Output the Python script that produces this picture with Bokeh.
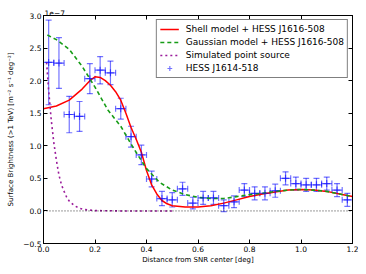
from bokeh.plotting import figure
from bokeh.models import (Range1d, FixedTicker, PrintfTickFormatter, LinearAxis, Whisker,
                          TeeHead, ColumnDataSource, Legend, LegendItem, Span,
                          CustomJSTickFormatter)
from bokeh.embed import file_html
from bokeh.resources import INLINE

FONT = "DejaVu Sans"

# HESS J1614-518 profile (surface brightness in units of 1e-7 m^-2 s^-1 deg^-2)
dist = [0.02, 0.06, 0.10, 0.14, 0.18, 0.22, 0.26, 0.30, 0.34, 0.38, 0.42, 0.46, 0.50, 0.54, 0.58,
        0.62, 0.66, 0.70, 0.74, 0.78, 0.82, 0.86, 0.90, 0.94, 0.98, 1.02, 1.06, 1.10, 1.14, 1.18]
dist_err = [0.02] * 30
bright = [2.28, 2.27, 1.48, 1.45, 2.03, 2.16, 2.12, 1.57, 1.14, 0.86, 0.49, 0.19, 0.17, 0.34, 0.12,
          0.20, 0.20, 0.08, 0.14, 0.32, 0.27, 0.27, 0.31, 0.50, 0.42, 0.40, 0.40, 0.42, 0.32, 0.17]
bright_err = [0.65, 0.39, 0.28, 0.23, 0.23, 0.21, 0.18, 0.16, 0.16, 0.15, 0.12, 0.11, 0.11, 0.10, 0.09,
              0.10, 0.10, 0.09, 0.09, 0.10, 0.10, 0.10, 0.10, 0.10, 0.10, 0.10, 0.10, 0.10, 0.10, 0.10]

# Shell model + HESS J1616-508
shell_x = [0.00, 0.05, 0.10, 0.15, 0.18, 0.20, 0.22, 0.24, 0.26, 0.28, 0.30, 0.32, 0.34, 0.36, 0.38,
           0.40, 0.42, 0.44, 0.46, 0.48, 0.50, 0.55, 0.60, 0.65, 0.70, 0.75, 0.80, 0.85, 0.90, 0.95,
           1.00, 1.05, 1.10, 1.15, 1.20]
shell_y = [1.57, 1.61, 1.70, 1.87, 2.00, 2.06, 2.05, 2.00, 1.93, 1.83, 1.70, 1.50, 1.28, 1.10, 0.90,
           0.62, 0.40, 0.26, 0.16, 0.11, 0.08, 0.06, 0.06, 0.08, 0.12, 0.17, 0.22, 0.26, 0.29, 0.32,
           0.33, 0.32, 0.30, 0.26, 0.22]

# Gaussian model + HESS J1616-508
gauss_x = [0.015, 0.05, 0.10, 0.15, 0.20, 0.25, 0.30, 0.35, 0.40, 0.45, 0.50, 0.55, 0.60, 0.65, 0.70,
           0.75, 0.80, 0.85, 0.90, 0.95, 1.00, 1.05, 1.10, 1.15, 1.20]
gauss_y = [2.70, 2.63, 2.48, 2.22, 1.90, 1.55, 1.30, 0.96, 0.65, 0.44, 0.32, 0.25, 0.21, 0.19, 0.19,
           0.22, 0.25, 0.27, 0.30, 0.32, 0.33, 0.32, 0.30, 0.26, 0.22]

# Simulated point source
psf_x = [0.012, 0.02, 0.03, 0.04, 0.05, 0.06, 0.07, 0.08, 0.09, 0.10, 0.12, 0.14, 0.16, 0.20, 0.30,
         0.40, 0.50]
psf_y = [2.28, 1.85, 1.40, 1.05, 0.78, 0.55, 0.40, 0.30, 0.21, 0.15, 0.08, 0.04, 0.02, 0.005, 0.0,
         0.0, 0.0]

x_ticks = [0.0, 0.2, 0.4, 0.6, 0.8, 1.0, 1.2]
y_ticks = [-0.5, 0.0, 0.5, 1.0, 1.5, 2.0, 2.5, 3.0]

src = ColumnDataSource(dict(
    x=dist, y=bright,
    xlo=[a - b for a, b in zip(dist, dist_err)], xhi=[a + b for a, b in zip(dist, dist_err)],
    ylo=[a - b for a, b in zip(bright, bright_err)], yhi=[a + b for a, b in zip(bright, bright_err)],
))

p = figure(width=358, height=266, output_backend="svg", toolbar_location=None,
           x_range=Range1d(0, 1.2), y_range=Range1d(-0.5, 3.0),
           min_border_left=43, min_border_right=6, min_border_top=15, min_border_bottom=21,
           title="1e\u22127")
p.background_fill_color = "white"
p.border_fill_color = "white"
p.outline_line_color = "black"
p.outline_line_width = 1
p.grid.visible = False

p.title.text_font = FONT
p.title.text_font_size = "7.5px"
p.title.text_font_style = "normal"
p.title.text_color = "black"
p.title.align = "left"
p.title.offset = 1
p.title.standoff = 0

def style_axis(ax, ticks):
    ax.ticker = FixedTicker(ticks=ticks)
    ax.major_tick_in = 4
    ax.major_tick_out = 0
    ax.minor_tick_in = 0
    ax.minor_tick_out = 0
    ax.major_tick_line_color = "black"
    ax.axis_line_color = "black"
    ax.major_label_text_font = FONT
    ax.major_label_text_font_size = "7.5px"
    ax.major_label_text_color = "black"
    ax.major_label_standoff = 2
    ax.axis_label_text_font = FONT
    ax.axis_label_text_font_size = "7px"
    ax.axis_label_text_font_style = "normal"
    ax.axis_label_text_color = "black"
    ax.axis_label_standoff = 2

xa = p.xaxis[0]
ya = p.yaxis[0]
style_axis(xa, x_ticks)
style_axis(ya, y_ticks)
xa.formatter = PrintfTickFormatter(format="%.1f")
ya.formatter = PrintfTickFormatter(format="%.1f")
ya.major_label_overrides = {-0.5: "\u22120.5"}
xa.axis_label = "Distance from SNR center [deg]"
ya.axis_label = "Surface Brightness (>1 TeV) [m\u207b\u00b2 s\u207b\u00b9 deg\u207b\u00b2]"
xa.axis_label_standoff = 1
ya.axis_label_standoff = 5

# mirrored ticks on top and right
top = LinearAxis()
right = LinearAxis()
style_axis(top, x_ticks)
style_axis(right, y_ticks)
for ax in (top, right):
    ax.formatter = CustomJSTickFormatter(code="return ''")
    ax.major_label_text_font_size = "0px"
    ax.major_label_standoff = 0
    ax.axis_label_standoff = 0
p.add_layout(top, "above")
p.add_layout(right, "right")

# zero line
p.add_layout(Span(location=0, dimension="width", line_color="black", line_width=0.8,
                  line_dash="1 2"))

r_shell = p.line(shell_x, shell_y, line_color="#ff0000", line_width=1.5)
r_gauss = p.line(gauss_x, gauss_y, line_color="#169c16", line_width=1.6, line_dash="4 3")
r_psf = p.line(psf_x, psf_y, line_color="#9a1a9a", line_width=1.6, line_dash="2 3")

ecol = "#0000ff"
ealpha = 0.55
p.add_layout(Whisker(source=src, base="x", lower="ylo", upper="yhi", dimension="height",
                     line_color=ecol, line_alpha=ealpha, line_width=1.2,
                     upper_head=TeeHead(size=6, line_color=ecol, line_alpha=ealpha, line_width=1.2),
                     lower_head=TeeHead(size=6, line_color=ecol, line_alpha=ealpha, line_width=1.2)))
p.add_layout(Whisker(source=src, base="y", lower="xlo", upper="xhi", dimension="width",
                     line_color=ecol, line_alpha=ealpha, line_width=1.2,
                     upper_head=TeeHead(size=6, line_color=ecol, line_alpha=ealpha, line_width=1.2),
                     lower_head=TeeHead(size=6, line_color=ecol, line_alpha=ealpha, line_width=1.2)))
r_data = p.scatter("x", "y", source=src, marker="cross", size=7, line_color=ecol,
                   line_alpha=ealpha, line_width=1.2)

legend = Legend(items=[
    LegendItem(label="Shell model + HESS J1616-508", renderers=[r_shell]),
    LegendItem(label="Gaussian model + HESS J1616-508", renderers=[r_gauss]),
    LegendItem(label="Simulated point source", renderers=[r_psf]),
    LegendItem(label="HESS J1614-518", renderers=[r_data]),
], location="top_right")
legend.margin = 4
legend.padding = 3
legend.spacing = 1
legend.glyph_width = 19
legend.glyph_height = 12
legend.label_height = 12
legend.label_standoff = 7
legend.label_text_font = FONT
legend.label_text_font_size = "9px"
legend.label_text_color = "black"
legend.border_line_color = "black"
legend.border_line_width = 1
legend.background_fill_color = "white"
legend.background_fill_alpha = 1
p.add_layout(legend)

open("out.html", "w").write(file_html(p, INLINE))
